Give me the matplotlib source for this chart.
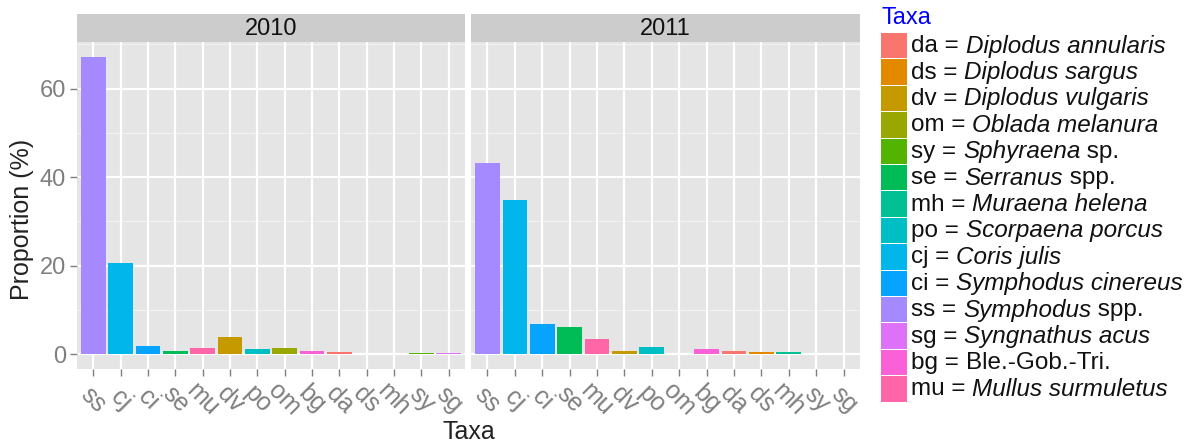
import numpy as np
import matplotlib.pyplot as plt
from matplotlib.patches import Rectangle

plt.rcParams['font.family'] = ['Liberation Sans', 'DejaVu Sans']

# taxa in plotting order along the x axis
taxa = ["ss", "cj", "ci", "se", "mu", "dv", "po", "om", "bg", "da", "ds", "mh", "sy", "sg"]
years = ["2010", "2011"]
prop_2010 = [67.2, 20.6, 1.8, 0.7, 1.5, 3.8, 1.1, 1.3, 0.7, 0.5, 0.0, 0.0, 0.15, 0.15]
prop_2011 = [43.2, 34.8, 6.7, 6.1, 3.4, 0.8, 1.6, 0.0, 1.2, 0.6, 0.4, 0.4, 0.0, 0.0]

# legend order (factor levels) and ggplot hue colours
levels = ["da", "ds", "dv", "om", "sy", "se", "mh", "po", "cj", "ci", "ss", "sg", "bg", "mu"]
colors = ["#F8766D", "#E38900", "#C49A00", "#99A800", "#53B400", "#00BC56", "#00C094",
          "#00BFC4", "#00B6EB", "#06A4FF", "#A58AFF", "#DF70F8", "#FB61D7", "#FF66A8"]
genus = ["Diplodus annularis", "Diplodus sargus", "Diplodus vulgaris", "Oblada melanura",
         "Sphyraena", "Serranus", "Muraena helena", "Scorpaena porcus", "Coris julis",
         "Symphodus cinereus", "Symphodus", "Syngnathus acus", "Ble.-Gob.-Tri.", "Mullus surmuletus"]
suffix = ["", "", "", "", " sp.", " spp.", "", "", "", "", " spp.", "", "", ""]

col_of = dict(zip(levels, colors))

W, H = 1194, 446
fig = plt.figure(figsize=(W / 100, H / 100), dpi=100)

def px(x0, y0, x1, y1):
    return [x0 / W, 1 - y1 / H, (x1 - x0) / W, (y1 - y0) / H]

panels = [(77, 465), (471, 860)]
ymin, ymax = -3.36, 70.56
x = np.arange(len(taxa))

for i, (yr, vals) in enumerate(zip(years, [prop_2010, prop_2011])):
    x0, x1 = panels[i]
    ax = fig.add_axes(px(x0, 42, x1, 369))
    ax.set_facecolor("#E5E5E5")
    for yv in [10, 30, 50, 70]:
        ax.axhline(yv, color="#F2F2F2", lw=0.8, zorder=0)
    for yv in [0, 20, 40, 60]:
        ax.axhline(yv, color="white", lw=1.6, zorder=0)
    for xv in x:
        ax.axvline(xv, color="white", lw=1.6, zorder=0)
    ax.bar(x, vals, width=0.9, color=[col_of[t] for t in taxa], zorder=2)
    ax.set_xlim(-0.6, len(taxa) - 0.4)
    ax.set_ylim(ymin, ymax)
    for s in ax.spines.values():
        s.set_visible(False)
    ax.set_xticks(x)
    ax.set_xticklabels(taxa, rotation=-45, ha="center", va="center", rotation_mode="anchor",
                       fontsize=18, color="#7F7F7F")
    ax.tick_params(axis="x", length=5, width=1, color="#7F7F7F", pad=17)
    ax.set_yticks([0, 20, 40, 60])
    if i == 0:
        ax.set_yticklabels(["0", "20", "40", "60"], fontsize=17, color="#7F7F7F")
        ax.tick_params(axis="y", length=5, width=1, color="#7F7F7F", pad=3)
        ax.set_ylabel("Proportion (%)", fontsize=18, color="#222222", va="center")
        ax.yaxis.set_label_coords(-0.142, 0.456)
    else:
        ax.tick_params(axis="y", length=0, labelleft=False)

    # facet strip
    sax = fig.add_axes(px(x0, 14, x1, 42))
    sax.set_facecolor("#CCCCCC")
    sax.set_xticks([])
    sax.set_yticks([])
    for s in sax.spines.values():
        s.set_visible(False)
    sax.text(0.5, 0.45, yr, ha="center", va="center", fontsize=17, color="#111111",
             transform=sax.transAxes)

fig.text((77 + 860) / 2 / W, 1 - 432 / H, "Taxa", ha="center", va="center",
         fontsize=18, color="#222222")

# legend drawn as a keyed column
lax = fig.add_axes([0, 0, 1, 1], facecolor="none")
lax.set_xlim(0, W)
lax.set_ylim(H, 0)
lax.axis("off")
lax.text(881, 18, "Taxa", fontsize=17, color="#0000FF", va="center", ha="left")
key_top, key_h = 33, 26.4
fs = 17.5
for k, (lv, c, g, sfx) in enumerate(zip(levels, colors, genus, suffix)):
    y0 = key_top + k * key_h
    lax.add_patch(Rectangle((881, y0), 26, key_h - 1, facecolor=c, edgecolor="none"))
    yc = y0 + key_h / 2
    style = "normal" if lv == "bg" else "italic"
    t = lax.text(911, yc, f"{lv} = ", fontsize=fs, va="center", ha="left", color="#111111")
    fig.canvas.draw()
    bb = t.get_window_extent()
    xg = 911 + bb.width
    t2 = lax.text(xg, yc, g, fontsize=fs, va="center", ha="left", style=style, color="#111111")
    if sfx:
        bb2 = t2.get_window_extent()
        lax.text(xg + bb2.width, yc, sfx, fontsize=fs, va="center", ha="left", color="#111111")

fig.savefig("out.png", dpi=100)
